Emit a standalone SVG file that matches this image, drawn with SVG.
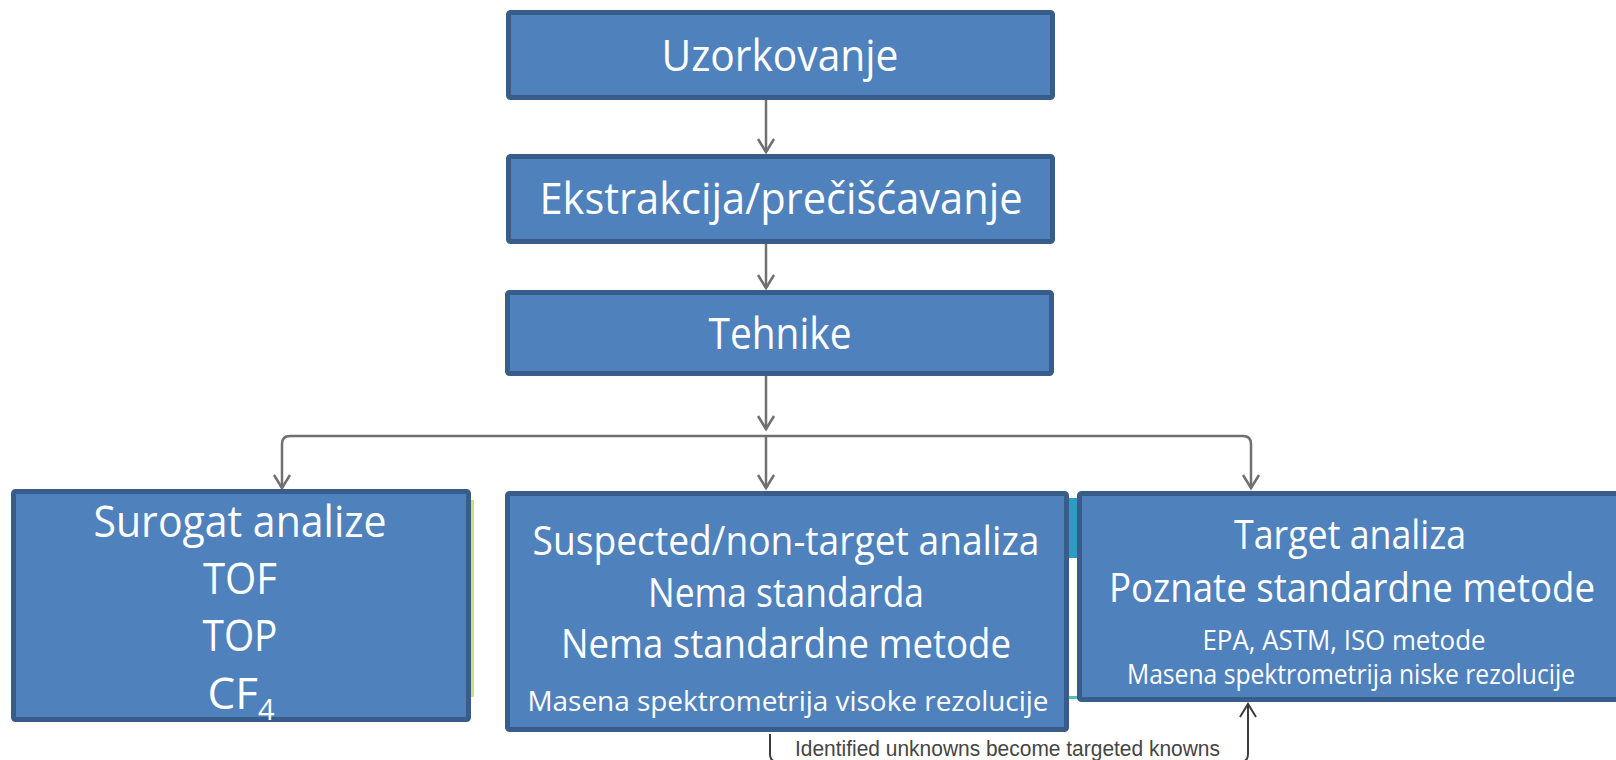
<svg xmlns="http://www.w3.org/2000/svg" width="1616" height="760" viewBox="0 0 1616 760">
<style>
.box{fill:#4f81bd;stroke:#385d8a;stroke-width:5}
.t{font-family:"Open Sans","Liberation Sans",sans-serif;fill:#ffffff;text-anchor:middle}
.big{font-size:44px}
.mid{font-size:40px}
.sm{font-size:27px}
.con{fill:none;stroke:#707070;stroke-width:2.5}
.fb{fill:none;stroke:#3c3c3c;stroke-width:2}
.lbl{font-family:"Liberation Sans",Arial,sans-serif;font-size:22px;fill:#454545}
</style>
<defs>
<marker id="arr" markerUnits="userSpaceOnUse" markerWidth="30" markerHeight="30" refX="0" refY="0" orient="auto" viewBox="-15 -15 30 30" overflow="visible">
<path d="M-13,-8 L0,0 L-13,8" fill="none" stroke="#707070" stroke-width="2.5"/>
</marker>
<marker id="arrd" markerUnits="userSpaceOnUse" markerWidth="30" markerHeight="30" refX="0" refY="0" orient="auto" viewBox="-15 -15 30 30" overflow="visible">
<path d="M-13,-8 L0,0 L-13,8" fill="none" stroke="#3c3c3c" stroke-width="2"/>
</marker>
</defs>
<rect width="1616" height="760" fill="#ffffff"/>
<g id="artifacts">
<rect x="1066" y="498" width="14" height="60" fill="#2e9bc4"/>
<rect x="1066" y="696" width="14" height="3" fill="#4fc1b8"/>
<rect x="470" y="500" width="4" height="197" fill="#c9e27a"/>
</g>
<g id="connectors">
<path class="con" d="M766,100 V152" marker-end="url(#arr)"/>
<path class="con" d="M766,244 V288" marker-end="url(#arr)"/>
<path class="con" d="M766,376 V429" marker-end="url(#arr)"/>
<path class="con" d="M766,436 H290 Q282,436 282,444 V488" marker-end="url(#arr)"/>
<path class="con" d="M766,436 H1243 Q1251,436 1251,444 V488" marker-end="url(#arr)"/>
<path class="con" d="M766,436 V488" marker-end="url(#arr)"/>
<path class="fb" d="M770,734 V754 Q770,762 778,762 H1240 Q1248,762 1248,754 V704" marker-end="url(#arrd)"/>
<text class="lbl" x="795" y="756" textLength="425" lengthAdjust="spacingAndGlyphs">Identified unknowns become targeted knowns</text>
</g>
<g id="uzorkovanje">
<rect class="box" x="508.5" y="12.5" width="544" height="85" rx="2"/>
<text class="t big" x="780" y="71" textLength="237" lengthAdjust="spacingAndGlyphs">Uzorkovanje</text>
</g>
<g id="ekstrakcija">
<rect class="box" x="508.5" y="156.5" width="544" height="85" rx="2"/>
<text class="t big" x="781" y="214" textLength="483" lengthAdjust="spacingAndGlyphs">Ekstrakcija/prečišćavanje</text>
</g>
<g id="tehnike">
<rect class="box" x="507.5" y="292.5" width="544" height="81" rx="2"/>
<text class="t big" x="780" y="349" textLength="143" lengthAdjust="spacingAndGlyphs">Tehnike</text>
</g>
<g id="surogat">
<rect class="box" x="13.5" y="491.5" width="455" height="228" rx="2"/>
<text class="t big" x="240" y="537" textLength="293" lengthAdjust="spacingAndGlyphs">Surogat analize</text>
<text class="t big" x="240" y="594" textLength="74" lengthAdjust="spacingAndGlyphs">TOF</text>
<text class="t big" x="240" y="651" textLength="75" lengthAdjust="spacingAndGlyphs">TOP</text>
<text class="t big" x="241" y="709">CF<tspan font-size="29" dy="11">4</tspan></text>
</g>
<g id="suspected">
<rect class="box" x="507.5" y="493.5" width="559" height="236" rx="2"/>
<text class="t mid" x="786" y="555" textLength="507" lengthAdjust="spacingAndGlyphs">Suspected/non-target analiza</text>
<text class="t mid" x="786" y="607" textLength="276" lengthAdjust="spacingAndGlyphs">Nema standarda</text>
<text class="t mid" x="786" y="658" textLength="450" lengthAdjust="spacingAndGlyphs">Nema standardne metode</text>
<text class="t sm" x="788" y="711" textLength="521" lengthAdjust="spacingAndGlyphs">Masena spektrometrija visoke rezolucije</text>
</g>
<g id="target">
<rect class="box" x="1079.5" y="493.5" width="560" height="206" rx="2"/>
<text class="t mid" x="1350" y="549" textLength="232" lengthAdjust="spacingAndGlyphs">Target analiza</text>
<text class="t mid" x="1352" y="602" textLength="486" lengthAdjust="spacingAndGlyphs">Poznate standardne metode</text>
<text class="t sm" x="1344" y="650" textLength="283" lengthAdjust="spacingAndGlyphs">EPA, ASTM, ISO metode</text>
<text class="t sm" x="1351" y="684" textLength="448" lengthAdjust="spacingAndGlyphs">Masena spektrometrija niske rezolucije</text>
</g>
</svg>
